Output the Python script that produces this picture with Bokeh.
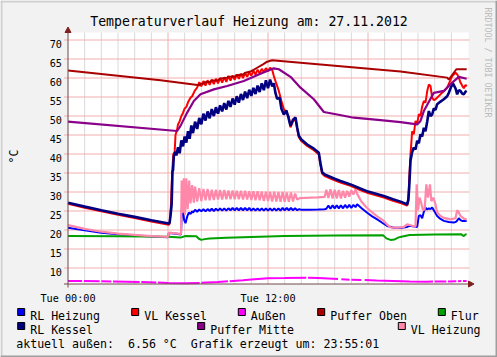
import math
from bokeh.plotting import figure
from bokeh.models import Range1d
from bokeh.core.properties import value
from bokeh.embed import file_html
from bokeh.resources import INLINE

NaN = float("nan")

TITLE = "Temperaturverlauf Heizung am: 27.11.2012"
Y_UNIT = "°C"
WATERMARK = "RRDTOOL / TOBI OETIKER"
FOOTER_PARTS = ["aktuell außen:", "6.56 °C", "Grafik erzeugt um: 23:55:01"]
FOOTER_CELLS = [0, 16, 25]          # character columns of the monospace footer line
Y_TICKS = [10, 15, 20, 25, 30, 35, 40, 45, 50, 55, 60, 65, 70]
X_TICKS = [0, 12]
X_TICK_LABELS = ["Tue 00:00", "Tue 12:00"]
X_MINOR = [1, 2, 3, 4, 5, 7, 8, 9, 10, 11, 13, 14, 15, 16, 17, 19, 20, 21, 22, 23]
X_MAJOR = [6, 12, 18]

# (hour, °C)
RL_HEIZUNG = [(0,20.6),(1,19.9),(2,19.3),(3,18.9),(4,18.55),(5,18.3),(6.0,18.1),(6.05,19.2),(6.5,19.0),(6.78,18.8),(6.83,25.6),(6.9,25.0),(6.97,22.6),(7.05,21.8),(7.15,23.5),(7.25,24.6),(7.35,24.2),(7.45,24.9),
(7.5,24.6),(7.625,25.3),(7.75,24.8),(7.875,25.4),(8.0,24.9),(8.125,25.5),(8.25,24.9),(8.375,25.5),(8.5,25.0),(8.625,25.6),(8.75,25.0),(8.875,25.6),(9.0,25.1),(9.125,25.7),(9.25,25.1),(9.375,25.7),(9.5,25.1),(9.625,25.7),(9.75,25.2),(9.875,25.8),(10.0,25.2),(10.125,25.8),(10.25,25.2),(10.375,25.8),(10.5,25.2),(10.625,25.8),(10.75,25.2),(10.875,25.8),(11.0,25.1),(11.125,25.7),(11.25,25.1),(11.375,25.7),(11.5,25.1),(11.625,25.7),(11.75,25.1),(11.875,25.7),(12.0,25.1),(12.125,25.7),(12.25,25.1),(12.375,25.7),(12.5,25.1),(12.625,25.7),(12.75,25.1),(12.875,25.8),(13.0,25.2),(13.125,25.8),(13.25,25.2),(13.375,25.8),(13.5,25.2),(13.625,25.7),(13.75,25.2),(13.875,25.5),
(14.0,25.3),(14.5,25.35),(15.0,25.4),(15.4,25.45),
(15.5,25.6),(15.625,26.4),(15.75,25.6),(15.875,26.5),(16.0,25.7),(16.125,26.5),(16.25,25.7),(16.375,26.5),(16.5,25.7),(16.625,26.6),(16.75,25.8),(16.875,26.6),(17.0,25.8),(17.125,26.6),(17.25,26.0),(17.35,26.75),
(17.6,25.8),(17.95,24.55),(18.25,23.6),(18.55,22.8),(18.85,21.9),(19.15,21.05),(19.55,20.6),(20.0,20.6),(20.35,20.8),(20.5,21.1),(20.95,20.8),(21.05,23.7),(21.15,23.9),(21.25,23.1),(21.35,24.8),(21.45,25.9),(21.55,25.4),(21.65,25.7),(21.75,25.5),(21.85,25.9),(22.0,24.8),(22.15,23.7),(22.35,22.9),(22.55,22.4),(22.85,22.1),(23.15,21.95),(23.3,22.2),(23.45,23.1),(23.55,22.6),(23.65,22.4),(23.92,22.4)]

VL_KESSEL = [(0,26.9),(1,25.85),(2,24.9),(3,24.0),(4,23.15),(5,22.25),(6.05,21.4),(6.1,21.7),(6.17,26.0),(6.25,35.0),(6.32,40.0),(6.4,40.5),(6.45,45.0),(6.55,46.5),(6.6,47.8),(6.7,48.6),(6.8,50.0),(6.9,50.8),(7.0,52.0),(7.1,52.4),(7.2,53.6),(7.35,54.8),(7.45,55.2),(7.6,56.6),(7.75,57.5),
(7.875,58.9),(8.0,57.8),(8.125,59.2),(8.25,58.0),(8.375,59.4),(8.5,58.2),(8.625,59.6),(8.75,58.4),(8.875,59.8),(9.0,58.6),(9.125,60.0),(9.25,58.8),(9.375,60.2),(9.5,59.0),(9.625,60.5),(9.75,59.3),(9.875,60.7),(10.0,59.5),(10.125,60.9),(10.25,59.8),(10.375,61.1),(10.5,60.0),(10.625,61.3),(10.75,60.3),(10.875,61.6),(11.0,60.6),(11.125,61.9),(11.25,60.9),(11.375,62.2),(11.5,61.2),(11.625,62.4),(11.75,61.5),(11.875,62.6),(12.0,61.8),(12.125,62.7),(12.25,62.2),
(12.35,60.5),(12.5,58.5),(12.65,56.6),(12.8,54.0),(12.95,51.8),(13.1,51.0),(13.25,49.8),(13.35,47.0),(13.5,48.6),(13.65,49.2),(13.75,46.6),(13.85,44.4),(14.0,43.4),(14.35,42.1),(14.75,41.0),(15.05,39.9),(15.15,37.1),(15.25,34.8),(15.4,34.2),(16.0,33.1),(16.35,32.5),(16.95,31.6),(17.5,30.6),(18.0,29.7),(18.95,28.55),(19.5,27.7),(20.0,27.0),(20.35,26.4),
(20.42,27.5),(20.47,33.0),(20.55,39.9),(20.65,46.0),(20.75,45.2),(20.85,48.7),(20.95,48.0),(21.05,50.5),(21.15,50.0),(21.25,52.5),(21.35,53.95),(21.45,53.5),(21.55,56.5),(21.65,58.3),(21.75,57.9),(21.85,54.8),(21.95,54.2),(22.05,54.4),(22.35,55.7),(22.55,56.5),(22.75,57.45),(22.9,59.0),(23.05,60.5),(23.25,61.4),(23.35,61.0),(23.45,60.1),(23.55,58.8),(23.65,58.0),(23.75,57.3),(23.85,58.2),(23.92,57.8)]

AUSSEN = [(0,6.6),(0.85,6.58),(0.9,NaN),(0.95,6.57),(1.9,6.5),(1.95,NaN),(2.0,6.5),(2.6,6.47),(2.65,NaN),(2.7,6.47),(3.5,6.4),(4.3,6.33),(4.35,NaN),(4.4,6.32),(5.3,6.18),(5.35,NaN),(5.4,6.17),(6.0,6.05),(7.0,6.0),(7.9,6.08),(7.95,NaN),(8.0,6.1),(9.0,6.3),(9.6,6.5),(9.65,NaN),(9.7,6.52),(10.5,6.8),(11.0,7.0),(12.0,7.3),(13.0,7.35),(14.3,7.45),(14.35,NaN),(14.4,7.44),(15.0,7.35),(16.2,7.1),(16.3,NaN),(16.4,7.05),(16.9,6.93),(16.95,NaN),(17.0,6.9),(17.6,6.85),(17.7,NaN),(17.8,6.82),(18.5,6.72),(19.5,6.6),(20.5,6.45),(21.5,6.4),(21.9,6.42),(21.95,NaN),(22.0,6.45),(22.7,6.48),(22.75,NaN),(22.8,6.48),(23.3,6.52),(23.35,NaN),(23.4,6.53),(23.6,6.55),(23.65,NaN),(23.7,6.56),(23.92,6.6)]

PUFFER_OBEN = [(0,62.0),(5.55,59.4),(7.89,58.1),(7.95,58.5),(8.15,58.5),(8.2,58.9),(8.55,59.0),(8.6,59.3),(9.0,59.4),(9.1,59.8),(9.55,60.1),(9.6,60.3),(10.0,60.4),(10.1,60.7),(10.55,61.0),(10.6,61.3),(11.0,61.8),(11.35,62.7),(11.7,63.6),(11.95,64.3),(12.25,64.65),(12.75,64.5),(19.95,61.7),(22.75,60.1),(22.85,59.6),(23.3,62.3),(23.92,62.3)]

FLUR = [(0,18.45),(3,18.35),(6.0,18.25),(6.75,18.0),(7.05,18.4),(7.7,18.35),(7.85,17.7),(8.0,17.4),(8.2,17.6),(8.5,17.75),(9.5,17.95),(11.0,18.15),(13.0,18.4),(16.0,18.55),(18.9,18.65),(19.1,17.8),(19.35,17.4),(19.6,17.5),(19.8,18.0),(20.0,18.2),(20.5,18.7),(22.0,18.8),(23.6,18.85),(23.75,18.4),(23.85,18.85),(23.92,18.9)]

RL_KESSEL = [(0,27.2),(1,26.15),(2,25.2),(3,24.3),(4,23.45),(5,22.55),(6.05,21.7),(6.1,22.0),(6.15,23.7),(6.22,26.8),(6.27,35.5),(6.3,35.6),(6.35,39.5),(6.45,40.6),(6.5,39.6),(6.6,41.8),(6.7,40.2),(6.8,43.6),(6.9,42.0),(7.0,44.6),(7.1,43.0),(7.2,46.0),(7.3,44.0),(7.4,47.5),(7.5,45.5),(7.625,48.5),(7.75,46.6),(7.875,49.5),(8.0,47.8),(8.125,50.6),(8.25,48.8),(8.375,51.2),(8.5,49.4),(8.625,51.8),(8.75,50.0),(8.875,52.3),(9.0,50.6),(9.125,52.8),(9.25,51.2),(9.375,53.4),(9.5,51.7),(9.625,54.0),(9.75,52.4),(9.875,54.6),(10.0,53.0),(10.125,55.2),(10.25,53.5),(10.375,55.8),(10.5,54.2),(10.625,56.4),(10.75,54.7),(10.875,56.9),(11.0,55.3),(11.125,57.4),(11.25,55.8),(11.375,58.0),(11.5,56.3),(11.625,58.6),(11.75,56.8),(11.875,59.4),(12.0,57.3),(12.125,59.6),(12.25,57.8),(12.35,58.6),(12.45,56.0),(12.55,54.5),(12.7,54.8),(12.8,52.0),(12.95,50.4),(13.1,51.5),(13.2,50.0),(13.35,47.4),(13.5,49.0),(13.65,49.6),(13.75,47.0),(13.85,44.8),(14.0,43.8),(14.35,42.5),(14.75,41.4),(15.05,40.3),(15.15,37.5),(15.25,35.2),(15.4,34.6),(16.0,33.5),(16.35,32.9),(16.95,32.0),(17.5,31.0),(18.0,30.1),(18.95,28.95),(19.5,28.1),(20.0,27.4),(20.35,26.75),(20.42,28.0),(20.47,31.1),(20.55,38.2),(20.65,40.5),(20.75,41.7),(20.85,41.2),(20.95,43.5),(21.05,42.8),(21.15,45.2),(21.25,44.6),(21.35,46.9),(21.45,46.0),(21.55,48.5),(21.65,51.3),(21.75,50.0),(21.85,50.4),(21.95,52.0),(22.05,51.6),(22.15,53.1),(22.35,53.8),(22.55,54.4),(22.75,55.2),(22.85,56.1),(23.0,57.8),(23.1,58.5),(23.25,57.3),(23.35,55.7),(23.45,56.8),(23.55,56.6),(23.65,55.9),(23.75,55.7),(23.85,56.4),(23.92,56.6)]

PUFFER_MITTE = [(0,48.5),(6.55,46.05),(6.75,47.4),(7.15,50.9),(7.55,53.95),(7.95,55.7),(8.75,57.0),(9.55,57.9),(10.55,59.2),(11.55,61.1),(12.35,62.55),(12.65,62.3),(13.35,60.3),(13.95,57.45),(14.75,54.4),(15.35,51.05),(16.15,50.4),(17.15,49.55),(18.75,48.9),(19.95,48.4),(20.95,47.8),(21.15,48.7),(21.35,51.3),(21.95,56.1),(22.55,56.6),(23.05,58.8),(23.45,60.3),(23.92,59.8)]

VL_HEIZUNG = [(0,21.3),(1,20.3),(2,19.55),(3,19.05),(4,18.7),(5,18.4),(6.0,18.2),(6.05,19.3),(6.5,19.1),(6.78,18.9),(6.82,33.0),(6.88,24.5),(6.95,33.6),(7.02,24.0),(7.1,33.6),(7.18,25.5),(7.27,33.0),(7.35,27.0),(7.45,31.8),(7.55,27.2),(7.625,31.4),(7.75,27.5),(7.875,31.0),(8.0,27.6),(8.125,30.8),(8.25,27.8),(8.375,30.8),(8.5,27.8),(8.625,30.6),(8.75,27.9),(8.875,30.6),(9.0,28.0),(9.125,30.5),(9.25,28.0),(9.375,30.5),(9.5,28.1),(9.625,30.4),(9.75,28.1),(9.875,30.4),(10.0,28.1),(10.125,30.3),(10.25,28.1),(10.375,30.3),(10.5,28.0),(10.625,30.3),(10.75,28.0),(10.875,30.2),(11.0,27.9),(11.125,30.2),(11.25,27.8),(11.375,30.2),(11.5,27.8),(11.625,30.1),(11.75,27.6),(11.875,30.1),(12.0,27.6),(12.125,30.0),(12.25,27.5),(12.375,30.1),(12.5,27.5),(12.625,30.0),(12.75,27.4),(12.875,30.0),(13.0,27.4),(13.125,29.9),(13.25,27.4),(13.375,29.9),(13.5,27.5),(13.625,29.6),(13.75,28.0),(13.9,28.4),(14.5,28.5),(15.0,28.6),(15.4,28.7),(15.5,30.6),(15.625,28.4),(15.75,30.7),(15.875,28.3),(16.0,30.6),(16.125,28.3),(16.25,30.5),(16.375,28.3),(16.5,30.3),(16.625,28.5),(16.75,30.3),(16.875,28.8),(17.0,30.5),(17.125,29.3),(17.25,30.7),(17.35,29.5),(17.6,27.5),(17.9,26.0),(18.15,25.0),(18.55,23.6),(18.95,22.4),(19.15,21.4),(19.35,20.7),(19.75,20.6),(20.15,20.8),(20.35,21.5),(20.6,21.2),(20.85,20.9),(20.92,32.0),(21.0,25.2),(21.1,28.5),(21.2,27.0),(21.3,25.2),(21.4,25.5),(21.5,32.0),(21.6,28.5),(21.72,32.0),(21.8,27.6),(21.92,28.5),(22.05,26.75),(22.15,24.6),(22.35,23.7),(22.55,23.2),(22.95,22.8),(23.25,23.1),(23.35,25.2),(23.45,24.6),(23.55,23.7),(23.75,23.0),(23.92,22.8)]

SERIES_NAMES = ["RL Heizung", "VL Kessel", "Außen", "Puffer Oben", "Flur", "RL Kessel", "Puffer Mitte", "VL Heizung"]
SERIES_DATA = [RL_HEIZUNG, VL_KESSEL, AUSSEN, PUFFER_OBEN, FLUR, RL_KESSEL, PUFFER_MITTE, VL_HEIZUNG]
SERIES_COLORS = ["#0000FF", "#FF0000", "#FF00FF", "#AA0000", "#00A000", "#000080", "#8A008A", "#FF88AA"]
SERIES_WIDTHS = [2, 2, 2, 2, 2, 2.6, 2.2, 2.2]

# ---------- pixel geometry (rrdtool-like layout) ----------
W, H = 497, 357
PX0, PXH = 67.5, 400.0 / 24.0     # px of 00:00, px per hour
PY70, PYU = 39.5, 3.8             # px of 70 °C, px per °C
CELL = 6.985                      # advance of one monospace character at 11.6px

def X(px):
    return (px - PX0) / PXH

def Y(py):
    return 70 - (py - PY70) / PYU

FONT = value("DejaVu Sans Mono")

p = figure(width=W, height=H, x_range=Range1d(X(0), X(W)), y_range=Range1d(Y(H), Y(0)),
           x_axis_type=None, y_axis_type=None, toolbar_location=None,
           output_backend="svg", min_border=0, title=None)
p.outline_line_color = None
p.background_fill_color = "#F2F2F2"
p.border_fill_color = "#F2F2F2"

YMIN, YMAX = Y(283.5), Y(32)

# border shading
SHADE_A, SHADE_B = "#CFCFCF", "#9E9E9E"
p.quad(left=[X(0), X(0)], right=[X(W), X(2)], bottom=[Y(2), Y(H)], top=[Y(0), Y(0)],
       fill_color=SHADE_A, line_color=None)
p.quad(left=[X(0), X(W - 2)], right=[X(W), X(W)], bottom=[Y(H), Y(H)], top=[Y(H - 2), Y(0)],
       fill_color=SHADE_B, line_color=None)

# canvas
p.quad(left=[0], right=[X(468)], bottom=[YMIN], top=[YMAX], fill_color="white", line_color=None)

# grid
p.segment(x0=X_MINOR, y0=[YMIN] * len(X_MINOR), x1=X_MINOR, y1=[YMAX] * len(X_MINOR),
          line_color="#D9D9D9", line_width=1)
p.segment(x0=X_MAJOR, y0=[YMIN] * len(X_MAJOR), x1=X_MAJOR, y1=[YMAX] * len(X_MAJOR),
          line_color="#F2AEAE", line_width=1)
p.segment(x0=[X(63.5)] * len(Y_TICKS), y0=Y_TICKS, x1=[X(469)] * len(Y_TICKS), y1=Y_TICKS,
          line_color="#F2AEAE", line_width=1)

# data lines
for data, col, lw in zip(SERIES_DATA, SERIES_COLORS, SERIES_WIDTHS):
    xs = [t for t, v in data]
    ys = [v for t, v in data]
    p.line(xs, ys, line_color=col, line_width=lw)

# axes with arrows
AXIS_COL, ARROW_COL = "#6E4848", "#801F1F"
p.segment(x0=[0, X(63.5)], y0=[Y(287), YMIN], x1=[0, X(469)], y1=[Y(30), YMIN],
          line_color=AXIS_COL, line_width=1)
p.patch([X(64.5), X(67.5), X(70.5)], [Y(32), Y(26.5), Y(32)], fill_color=ARROW_COL, line_color=ARROW_COL)
p.patch([X(468), X(473.5), X(468)], [Y(280.5), Y(283.5), Y(286.5)], fill_color=ARROW_COL, line_color=ARROW_COL)

# tick labels
p.text(x=[X(61.5)] * len(Y_TICKS), y=Y_TICKS, text=[str(v) for v in Y_TICKS],
       text_align="right", text_baseline="alphabetic", y_offset=3.7,
       text_font=FONT, text_font_size="10.2px", text_color="black")
p.text(x=X_TICKS, y=[Y(298.3)] * len(X_TICKS), text=X_TICK_LABELS,
       text_align="center", text_baseline="alphabetic",
       text_font=FONT, text_font_size="10.2px", text_color="black")

# title, unit, watermark
p.text(x=[X(248.5)], y=[Y(21.3)], text=[TITLE], text_align="center", text_baseline="alphabetic",
       text_font=FONT, text_font_size="13.2px", text_color="black")
p.text(x=[X(13.5)], y=[Y(156)], text=[Y_UNIT], angle=math.pi / 2, text_align="center",
       text_baseline="middle", text_font=FONT, text_font_size="11.6px", text_color="black")
p.text(x=[X(487)], y=[Y(62)], text=[WATERMARK], angle=-math.pi / 2, text_align="center",
       text_baseline="middle", text_font=FONT, text_font_size="8.3px", text_color="#BBBBBB")

# legend
LEG_SQ_LEFT = [16.7, 130.7, 237.3, 316.7, 437.3, 16.7, 196.7, 397.3]
LEG_ROW = [0, 0, 0, 0, 0, 1, 1, 1]
ROW_BASE = [315.5, 329.5]
sq_x = [X(l + 4) for l in LEG_SQ_LEFT]
sq_y = [Y(ROW_BASE[r] - 4) for r in LEG_ROW]
p.rect(x=sq_x, y=sq_y, width=7, height=7, width_units="screen", height_units="screen",
       fill_color=SERIES_COLORS, line_color="black", line_width=1)
p.text(x=[X(l + 13) for l in LEG_SQ_LEFT], y=[Y(ROW_BASE[r]) for r in LEG_ROW], text=SERIES_NAMES,
       text_align="left", text_baseline="alphabetic", text_font=FONT, text_font_size="11.6px",
       text_color="black")
p.text(x=[X(15.7 + c * CELL) for c in FOOTER_CELLS], y=[Y(343.3)] * len(FOOTER_PARTS),
       text=FOOTER_PARTS, text_align="left", text_baseline="alphabetic", text_font=FONT,
       text_font_size="11.6px", text_color="black")

open("out.html", "w").write(file_html(p, INLINE))
